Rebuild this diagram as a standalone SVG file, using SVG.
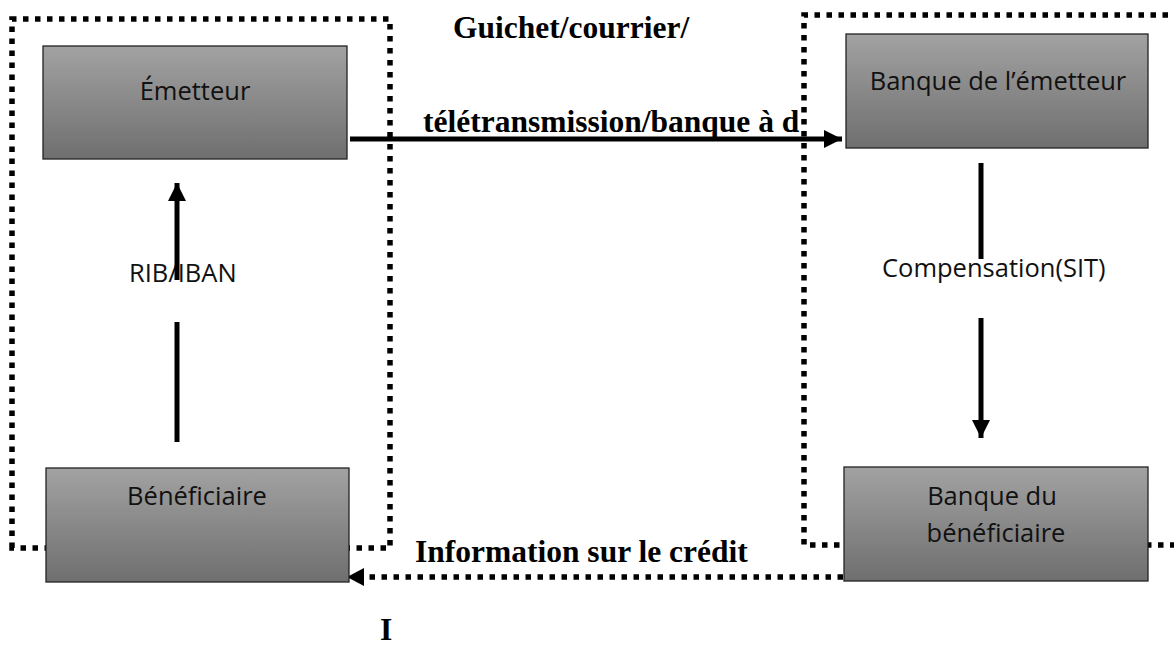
<svg xmlns="http://www.w3.org/2000/svg" width="1174" height="648" viewBox="0 0 1174 648">
<style>
.dot{fill:none;stroke:#000;stroke-width:5.5;stroke-dasharray:5.5 6.5}
.solid{fill:none;stroke:#000;stroke-width:5}
.box{fill:url(#g);stroke:#222;stroke-width:1.3}
.lbl{font-family:"Open Sans","Liberation Sans",sans-serif;font-size:25.5px;fill:#111}
.bold{font-family:"Liberation Serif","Times New Roman",serif;font-size:31.5px;font-weight:bold;fill:#000}
</style>
<defs>
<linearGradient id="g" x1="0" y1="0" x2="0" y2="1">
<stop offset="0" stop-color="#a2a2a2"/>
<stop offset="1" stop-color="#6f6f6f"/>
</linearGradient>
<marker id="ah" markerUnits="userSpaceOnUse" markerWidth="18" markerHeight="18" refX="18" refY="9" orient="auto">
<path d="M0,0 L18,9 L0,18 Z" fill="#000"/>
</marker>
</defs>
<rect width="1174" height="648" fill="#fff"/>
<g id="groups">
<path class="dot" d="M12,548 L12,19 L390,19 L390,548 Z"/>
<path class="dot" d="M1180,15 L804,15 L804,545 L1180,545"/>
</g>
<g id="labels">
<text class="bold" x="453" y="38">Guichet/courrier/</text>
<text class="bold" x="423" y="132">télétransmission/banque à d</text>
<text class="bold" x="415" y="562">Information sur le crédit</text>
<text class="bold" x="380" y="640">I</text>
<text class="lbl" x="129" y="282">RIB/IBAN</text>
<text class="lbl" x="882" y="277">Compensation(SIT)</text>
</g>
<g id="connectors">
<line class="solid" x1="350" y1="139" x2="842" y2="139" marker-end="url(#ah)"/>
<line class="solid" x1="177" y1="280" x2="177" y2="183" marker-end="url(#ah)"/>
<line class="solid" x1="177" y1="322" x2="177" y2="442"/>
<line class="solid" x1="981" y1="163" x2="981" y2="259"/>
<line class="solid" x1="981" y1="318" x2="981" y2="438" marker-end="url(#ah)"/>
<line class="dot" x1="843" y1="577" x2="362" y2="577"/>
<path d="M347,577 L364,568 L364,586 Z" fill="#000"/>
</g>
<g id="emetteur">
<rect class="box" x="43" y="46" width="304" height="113"/>
<text class="lbl" x="195" y="100" text-anchor="middle">Émetteur</text>
</g>
<g id="beneficiaire">
<rect class="box" x="46" y="468" width="303" height="114"/>
<text class="lbl" x="197" y="505" text-anchor="middle">Bénéficiaire</text>
</g>
<g id="banque-emetteur">
<rect class="box" x="846" y="34" width="302" height="114"/>
<text class="lbl" x="998" y="90" text-anchor="middle">Banque de l’émetteur</text>
</g>
<g id="banque-beneficiaire">
<rect class="box" x="844" y="467" width="304" height="114"/>
<text class="lbl" x="992" y="505" text-anchor="middle">Banque du</text>
<text class="lbl" x="996" y="542" text-anchor="middle">bénéficiaire</text>
</g>
</svg>
